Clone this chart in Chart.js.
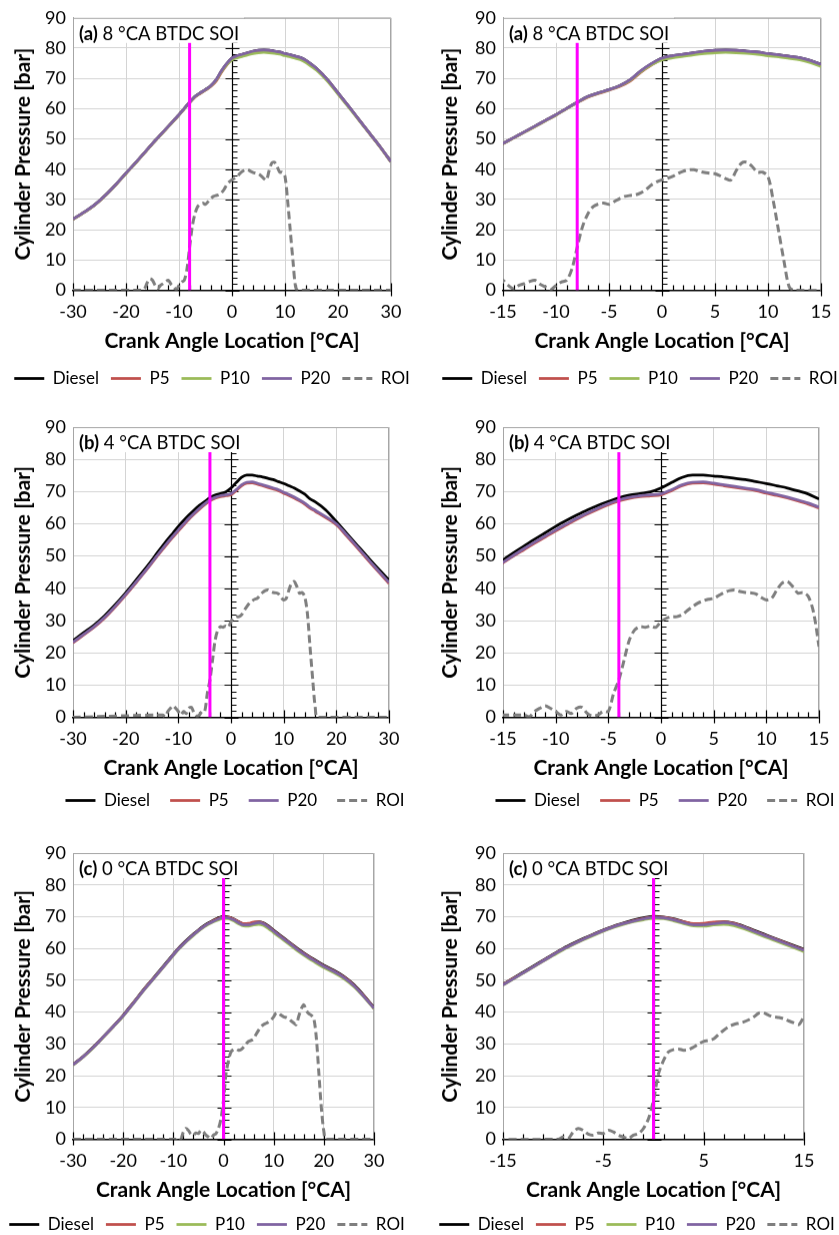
<!DOCTYPE html>
<html>
<head>
<meta charset="utf-8">
<script src="https://cdn.jsdelivr.net/npm/chart.js@4.4.0/dist/chart.umd.min.js"></script>
<style>
  html, body { margin: 0; padding: 0; background: #fff; overflow: hidden; }
  #fig { position: relative; width: 839px; height: 1235px; overflow: hidden; background: #fff; }
  #fig canvas { position: absolute; }
</style>
</head>
<body>
<div id="fig"></div>
<script>
// Angles vilebrequin des courbes de pression [°CA]
const CA_P = [-30, -28, -26, -24, -22, -20, -18, -16,
  -15, -14, -13, -12, -11, -10, -9, -8, -7, -6, -5, -4, -3, -2, -1,
  0, 1, 2, 3, 4, 5, 6, 7, 8, 9, 10, 11, 12, 13, 14, 15,
  16, 18, 20, 22, 24, 26, 28, 30];

// (a) 8 °CA BTDC SOI - pression cylindre [bar]
const A_DIESEL = [23.5, 25.7, 28.1, 31.2, 34.8, 38.7, 42.5, 46.5,
  48.5, 50.4, 52.3, 54.2, 56.1, 58.0, 60.1, 62.1, 64.0, 65.2, 66.3, 67.6, 69.5, 72.4, 74.8,
  76.7, 77.5, 78.0, 78.5, 79.0, 79.3, 79.4, 79.3, 79.0, 78.7, 78.2, 77.8, 77.3, 76.8, 75.9, 74.6,
  73.2, 69.6, 65.2, 60.8, 56.3, 51.8, 47.3, 42.5];
const A_P5 = [23.4, 25.6, 28.0, 31.1, 34.7, 38.6, 42.4, 46.4,
  48.4, 50.3, 52.2, 54.1, 56.0, 57.9, 60.0, 62.0, 63.8, 65.0, 66.1, 67.3, 69.1, 72.0, 74.4,
  76.4, 77.3, 77.8, 78.3, 78.8, 79.1, 79.2, 79.1, 78.8, 78.5, 78.0, 77.6, 77.1, 76.6, 75.7, 74.4,
  73.0, 69.4, 65.0, 60.7, 56.2, 51.7, 47.2, 42.4];
const A_P10 = [23.4, 25.6, 28.0, 31.1, 34.7, 38.6, 42.4, 46.4,
  48.4, 50.3, 52.2, 54.1, 56.0, 57.9, 60.0, 62.0, 63.9, 65.1, 66.2, 67.5, 69.4, 72.2, 74.5,
  76.1, 76.8, 77.3, 77.8, 78.2, 78.5, 78.6, 78.5, 78.3, 78.0, 77.5, 77.1, 76.6, 76.1, 75.2, 73.9,
  72.6, 69.1, 64.8, 60.5, 56.1, 51.7, 47.2, 42.4];
const A_P20 = [23.5, 25.7, 28.1, 31.2, 34.8, 38.7, 42.5, 46.5,
  48.5, 50.4, 52.3, 54.2, 56.1, 58.0, 60.1, 62.1, 64.0, 65.2, 66.3, 67.6, 69.6, 72.5, 74.9,
  76.7, 77.5, 78.0, 78.5, 79.0, 79.3, 79.4, 79.3, 79.0, 78.7, 78.2, 77.8, 77.3, 76.8, 75.9, 74.6,
  73.2, 69.6, 65.2, 60.8, 56.3, 51.8, 47.3, 42.5];

// (b) 4 °CA BTDC SOI
const B_DIESEL = [23.8, 26.2, 28.6, 31.5, 34.9, 38.6, 42.6, 46.7,
  48.8, 51.0, 53.1, 55.2, 57.2, 59.2, 61.0, 62.7, 64.3, 65.7, 66.9, 68.1, 68.9, 69.4, 69.9,
  71.1, 72.8, 74.4, 75.1, 75.1, 74.8, 74.5, 74.1, 73.7, 73.1, 72.5, 71.8, 71.1, 70.2, 69.2, 67.7,
  66.8, 64.3, 60.7, 57.0, 53.3, 49.6, 46.0, 42.6];
const B_P5 = [23.1, 25.5, 27.9, 30.8, 34.2, 37.9, 41.8, 45.8,
  47.9, 50.0, 52.0, 54.0, 55.9, 57.8, 59.6, 61.4, 63.0, 64.5, 65.9, 67.1, 67.9, 68.4, 68.7,
  69.0, 70.3, 71.8, 72.6, 72.7, 72.3, 71.8, 71.3, 70.8, 70.3, 69.5, 68.8, 68.0, 67.1, 66.1, 64.9,
  63.9, 61.9, 59.7, 56.2, 52.5, 48.8, 45.1, 41.5];
const B_P20 = [23.3, 25.7, 28.1, 31.0, 34.4, 38.1, 42.0, 46.0,
  48.1, 50.2, 52.3, 54.3, 56.2, 58.1, 59.9, 61.7, 63.3, 64.8, 66.2, 67.4, 68.2, 68.7, 69.0,
  69.3, 70.6, 72.1, 72.9, 73.0, 72.6, 72.1, 71.6, 71.1, 70.6, 69.8, 69.1, 68.3, 67.4, 66.4, 65.2,
  64.2, 62.2, 60.0, 56.5, 52.8, 49.1, 45.4, 41.8];

// (c) 0 °CA BTDC SOI
const C_DIESEL = [23.5, 26.0, 28.9, 32.2, 35.5, 39.0, 42.9, 46.9,
  48.8, 50.6, 52.5, 54.4, 56.3, 58.2, 60.0, 61.6, 63.1, 64.5, 65.8, 67.0, 68.0, 68.9, 69.6,
  70.1, 69.9, 69.3, 68.4, 67.7, 67.7, 68.1, 68.4, 68.0, 67.0, 65.7, 64.5, 63.3, 62.1, 60.9, 59.7,
  58.6, 56.6, 54.7, 53.1, 51.2, 48.6, 45.2, 41.4];
const C_P5 = [23.4, 25.9, 28.8, 32.1, 35.4, 38.9, 42.8, 46.8,
  48.7, 50.5, 52.3, 54.2, 56.1, 58.0, 59.8, 61.4, 62.9, 64.3, 65.6, 66.8, 67.8, 68.7, 69.4,
  69.9, 69.8, 69.2, 68.4, 67.8, 67.9, 68.3, 68.4, 67.9, 66.8, 65.5, 64.3, 63.1, 61.9, 60.7, 59.5,
  58.4, 56.4, 54.5, 52.9, 51.0, 48.4, 45.0, 41.2];
const C_P10 = [23.3, 25.8, 28.7, 32.0, 35.3, 38.7, 42.6, 46.6,
  48.5, 50.3, 52.2, 54.1, 56.0, 57.8, 59.6, 61.2, 62.7, 64.1, 65.4, 66.6, 67.6, 68.4, 69.0,
  69.5, 69.4, 68.7, 67.8, 67.1, 67.0, 67.4, 67.6, 67.2, 66.2, 65.0, 63.8, 62.6, 61.4, 60.2, 59.0,
  57.9, 55.9, 54.0, 52.4, 50.5, 48.0, 44.7, 41.0];
const C_P20 = [23.4, 25.9, 28.8, 32.1, 35.4, 38.8, 42.7, 46.7,
  48.6, 50.4, 52.3, 54.2, 56.1, 58.0, 59.8, 61.4, 62.9, 64.3, 65.6, 66.8, 67.8, 68.6, 69.3,
  69.8, 69.6, 69.0, 68.1, 67.4, 67.4, 67.8, 68.1, 67.7, 66.7, 65.4, 64.2, 63.0, 61.8, 60.6, 59.4,
  58.3, 56.3, 54.4, 52.8, 50.9, 48.3, 44.9, 41.2];

// Taux d'injection (ROI)
const CA_ROI_A = [-30, -17, -16.5, -16, -15.5, -15, -14.5, -14, -13.5, -13, -12.5, -12, -11.5, -11, -10.5,
  -10, -9.5, -9, -8.5, -8, -7.5, -7, -6.5, -6, -5.5, -5, -4.5, -4, -3.5, -3, -2.5, -2, -1.5, -1, -0.5,
  0, 0.5, 1, 1.5, 2, 2.5, 3, 3.5, 4, 4.5, 5, 5.5, 6, 6.5, 7, 7.5, 8, 8.5, 9, 9.5, 10, 10.5, 11, 11.5,
  12, 12.5, 30];
const ROI_A = [0, 0, 0.5, 2.5, 3.8, 3.3, 1.6, 0.5, 1.6, 2.2, 2.9, 3.3, 2.0, 1.1, 0.2,
  1.6, 2.7, 3.3, 7.0, 14.2, 21.0, 25.2, 27.6, 28.5, 28.8, 28.4, 29.3, 30.3, 31.0, 31.3, 31.5, 32.2, 33.3, 34.8, 35.8,
  36.5, 37.0, 37.6, 38.6, 39.3, 39.8, 39.8, 39.3, 38.9, 38.7, 38.5, 37.8, 36.9, 36.4, 39.5, 42.0, 42.3, 40.9, 39.0, 39.0,
  37.6, 29.5, 19.6, 9.8, 1.1, 0, 0];

const CA_ROI_B = [-30, -13, -12.5, -12, -11.5, -11, -10.5, -10, -9.5, -9, -8.5, -8, -7.5, -7, -6.5, -6, -5.5,
  -5, -4.5, -4, -3.5, -3, -2.5, -2, -1.5, -1, -0.5, 0, 0.5, 1, 1.5, 2, 2.5, 3, 3.5, 4, 4.5, 5, 5.5, 6,
  6.5, 7, 7.5, 8, 8.5, 9, 9.5, 10, 10.5, 11, 11.5, 12, 12.5, 13, 13.5, 14, 14.5, 15, 15.5, 16, 16.5, 30];
const ROI_B = [0, 0.7, 0.2, 1.8, 2.8, 3.6, 2.8, 1.8, 0.7, 1.8, 1.2, 2.8, 3.1, 1.2, 0.4, 0.7, 1.8,
  1.8, 7.4, 11.6, 17.8, 24.0, 27.1, 28.1, 27.9, 28.3, 27.9, 29.7, 30.7, 31.2, 31.2, 31.8, 33.1, 34.3, 35.4, 36.1, 36.6, 36.9, 37.8, 38.7,
  39.3, 39.5, 39.0, 38.7, 38.6, 38.3, 37.2, 36.4, 36.9, 39.5, 41.6, 42.1, 40.6, 38.5, 38.7, 37.4, 32.3, 21.9, 12.0, 3.0, 0, 0];

const CA_ROI_C = [-30, -9.5, -9, -8.5, -8, -7.5, -7, -6.5, -6, -5.5, -5, -4.5, -4, -3.5, -3, -2.5, -2, -1.5, -1, -0.5,
  0, 0.5, 1, 1.5, 2, 2.5, 3, 3.5, 4, 4.5, 5, 5.5, 6, 6.5, 7, 7.5, 8, 8.5, 9, 9.5,
  10, 10.5, 11, 11.5, 12, 12.5, 13, 13.5, 14, 14.5, 15, 15.5, 16, 16.5, 17, 17.5, 18, 18.5, 19, 19.5,
  20, 20.5, 30];
const ROI_C = [0, 0, 0.7, 0.2, 2.3, 3.4, 2.8, 1.6, 1.3, 2.0, 1.8, 2.8, 2.3, 1.3, 0.7, 0.2, 1.3, 1.8, 3.4, 6.5,
  12.3, 20.6, 24.8, 27.5, 28.2, 28.4, 28.0, 28.2, 29.0, 30.0, 30.8, 31.1, 31.6, 33.0, 34.3, 35.4, 36.1, 36.5, 36.9, 37.6,
  38.5, 39.7, 39.7, 39.0, 38.5, 38.3, 37.9, 37.2, 36.6, 36.1, 38.7, 41.0, 42.3, 40.5, 39.5, 39.0, 38.0, 32.0, 21.0, 10.0,
  2.5, 0, 0];

// Début d'injection (ligne magenta) [°CA]
const SOI_A = -8, SOI_B = -4, SOI_C = 0;

// Graduations
const Y_TICKS = [0, 10, 20, 30, 40, 50, 60, 70, 80, 90];
const X_TICKS_30 = [-30, -20, -10, 0, 10, 20, 30];
const X_TICKS_15 = [-15, -10, -5, 0, 5, 10, 15];
const X_TICKS_15B = [-15, -5, 5, 15];

const FONT = "Lato, 'Open Sans', sans-serif";
const GRID = '#d4d4d4';
const FRAME = '#a6a6a6';
const COLORS = { Diesel: '#000000', P5: '#c0504d', P10: '#9bbb59', P20: '#8064a2', ROI: '#7f7f7f', SOI: '#ff00ff' };
const ORDER = { Diesel: 4, P5: 3, P10: 2, P20: 1, ROI: 5 };

// Mise en page des lignes et panneaux
const ROWS = [
  { top: 0, padTop: 15, plotBottom: 290, legendOff: 88, lpad: 12 },
  { top: 400, padTop: 27, plotBottom: 317, legendOff: 83, lpad: 20 },
  { top: 830, padTop: 23, plotBottom: 309, legendOff: 85, lpad: 12 }
];
const COLS = [{ cx: -30, plotLeft: 73, titleX: 23 }, { cx: 400, plotLeft: 503, titleX: 450 }];
const LEG_FS = 17, AXIS_FS = 21, PANEL_FS = 18.5, TICK_FS = 18;

function pressure(label, ys) {
  return {
    label, data: CA_P.map((x, i) => ({ x, y: ys[i] })),
    borderColor: COLORS[label], backgroundColor: COLORS[label],
    borderWidth: 2.75, pointRadius: 0, pointBorderWidth: 2.75,
    cubicInterpolationMode: 'monotone', order: ORDER[label]
  };
}
function roi(xs, ys) {
  return {
    label: 'ROI', data: xs.map((x, i) => ({ x, y: ys[i] })),
    borderColor: COLORS.ROI, backgroundColor: COLORS.ROI,
    borderWidth: 3, borderDash: [8, 4], pointRadius: 0, pointBorderWidth: 3,
    tension: 0.3, order: ORDER.ROI
  };
}
function soiLine(x) {
  return {
    label: 'SOI', soi: true, data: [{ x, y: 0 }, { x, y: 90 }],
    borderColor: COLORS.SOI, borderWidth: 3, pointRadius: 0, order: 0
  };
}

const SETS = {
  a: () => [pressure('Diesel', A_DIESEL), pressure('P5', A_P5), pressure('P10', A_P10), pressure('P20', A_P20), roi(CA_ROI_A, ROI_A), soiLine(SOI_A)],
  b: () => [pressure('Diesel', B_DIESEL), pressure('P5', B_P5), pressure('P20', B_P20), roi(CA_ROI_B, ROI_B), soiLine(SOI_B)],
  c: () => [pressure('Diesel', C_DIESEL), pressure('P5', C_P5), pressure('P10', C_P10), pressure('P20', C_P20), roi(CA_ROI_C, ROI_C), soiLine(SOI_C)]
};
const TITLES = { a: ['(a)', ' 8 °CA BTDC SOI'], b: ['(b)', ' 4 °CA BTDC SOI'], c: ['(c)', ' 0 °CA BTDC SOI'] };

const PANELS = [
  { set: 'a', row: 0, col: 0, plotRight: 391, legCx: 212, min: -30, max: 30, ticks: X_TICKS_30, minor: 2 },
  { set: 'a', row: 0, col: 1, plotRight: 821, legCx: 640, min: -15, max: 15, ticks: X_TICKS_15, minor: 1 },
  { set: 'b', row: 1, col: 0, plotRight: 389, legCx: 235, min: -30, max: 30, ticks: X_TICKS_30, minor: 2 },
  { set: 'b', row: 1, col: 1, plotRight: 819, legCx: 665, min: -15, max: 15, ticks: X_TICKS_15, minor: 1 },
  { set: 'c', row: 2, col: 0, plotRight: 374, legCx: 207, min: -30, max: 30, ticks: X_TICKS_30, minor: 2 },
  { set: 'c', row: 2, col: 1, plotRight: 804, legCx: 637, min: -15, max: 15, ticks: X_TICKS_15B, minor: 2 }
];

// Axes façon Excel : axe vertical à 0 °CA avec graduations, cadre gris, encadré du titre
const excelAxes = {
  id: 'excelAxes',
  beforeDatasetsDraw(chart, args, opts) {
    const { ctx, chartArea: a, scales: { x, y } } = chart;
    ctx.save();
    ctx.strokeStyle = FRAME; ctx.lineWidth = 1;
    ctx.beginPath();
    ctx.moveTo(a.left, a.top + 0.5); ctx.lineTo(a.right - 0.5, a.top + 0.5); ctx.lineTo(a.right - 0.5, a.bottom);
    ctx.stroke();

    ctx.strokeStyle = '#000'; ctx.lineWidth = 1.2;
    ctx.beginPath();
    const x0 = Math.round(x.getPixelForValue(0)) + 0.5;
    ctx.moveTo(x0, a.top); ctx.lineTo(x0, a.bottom);
    for (let v = 0; v <= 90; v += 2) {
      const py = Math.round(y.getPixelForValue(v)) + 0.5;
      if (v % 10 === 0) { ctx.moveTo(x0 - 7, py); ctx.lineTo(x0 + 7, py); }
      else { ctx.moveTo(x0, py); ctx.lineTo(x0 + 5, py); }
    }
    const b = a.bottom;
    for (let v = x.min; v <= x.max + 1e-6; v += opts.minor) {
      const px = Math.round(x.getPixelForValue(v)) + 0.5;
      if (opts.ticks.some(t => Math.abs(t - v) < 1e-6)) { ctx.moveTo(px, b - 7); ctx.lineTo(px, b + 6); }
      else { ctx.moveTo(px, b - 5); ctx.lineTo(px, b); }
    }
    ctx.stroke();
    ctx.restore();
  },
  afterDatasetsDraw(chart, args, opts) {
    const { ctx, chartArea: a } = chart;
    ctx.save();
    ctx.font = `bold ${PANEL_FS}px ${FONT}`;
    const w1 = ctx.measureText(opts.title[0]).width;
    ctx.font = `${PANEL_FS}px ${FONT}`;
    const w2 = ctx.measureText(opts.title[1]).width;
    const tx = a.left + 6, ty = a.top + 16;
    ctx.fillStyle = '#fff';
    ctx.fillRect(a.left + 1, a.top - 1, 6 + w1 + w2 + 4, 26);
    ctx.fillStyle = '#000';
    ctx.textBaseline = 'middle';
    ctx.font = `bold ${PANEL_FS}px ${FONT}`;
    ctx.fillText(opts.title[0], tx, ty);
    ctx.font = `${PANEL_FS}px ${FONT}`;
    ctx.fillText(opts.title[1], tx + w1, ty);
    // le cadre supérieur reste visible au-dessus de l'encadré
    ctx.strokeStyle = FRAME; ctx.lineWidth = 1;
    ctx.beginPath();
    ctx.moveTo(a.left, a.top + 0.5); ctx.lineTo(a.left + 6 + w1 + w2 + 6, a.top + 0.5);
    ctx.stroke();
    ctx.restore();
  }
};

const fig = document.getElementById('fig');
const baseLabels = Chart.defaults.plugins.legend.labels.generateLabels;

PANELS.forEach(p => {
  const row = ROWS[p.row], col = COLS[p.col];
  const W = 2 * (p.legCx - col.cx);
  const yW = col.plotLeft - col.cx;
  const rW = col.cx + W - p.plotRight;
  const Hx = row.legendOff - row.lpad - LEG_FS / 2;
  const L = LEG_FS + row.lpad + 10;
  const H = row.plotBottom + Hx + L;
  const titlePadBottom = Hx - 51 - AXIS_FS * 1.2 / 2;

  const canvas = document.createElement('canvas');
  canvas.width = W; canvas.height = H;
  canvas.style.left = col.cx + 'px';
  canvas.style.top = row.top + 'px';
  canvas.style.width = W + 'px'; canvas.style.height = H + 'px';
  fig.appendChild(canvas);

  new Chart(canvas.getContext('2d'), {
    type: 'line',
    data: { datasets: SETS[p.set]() },
    plugins: [excelAxes],
    options: {
      responsive: false,
      animation: false,
      events: [],
      layout: { padding: { top: row.padTop, left: 0, right: 0, bottom: 0 } },
      scales: {
        x: {
          type: 'linear', min: p.min, max: p.max,
          afterBuildTicks: s => { s.ticks = p.ticks.map(v => ({ value: v })); },
          afterFit: s => { s.height = Hx; },
          grid: { color: GRID, drawTicks: false },
          border: { color: '#000', width: 1.5 },
          ticks: { padding: 11, color: '#000', font: { family: FONT, size: TICK_FS }, maxRotation: 0, autoSkip: false },
          title: {
            display: true, text: 'Crank Angle Location [°CA]', color: '#000',
            font: { family: FONT, size: AXIS_FS, weight: 'bold' },
            padding: { top: 0, bottom: titlePadBottom }
          }
        },
        y: {
          type: 'linear', min: 0, max: 90,
          afterBuildTicks: s => { s.ticks = Y_TICKS.map(v => ({ value: v })); },
          afterFit: s => { s.width = yW; },
          grid: { color: GRID, drawTicks: false },
          border: { color: FRAME, width: 1 },
          ticks: { padding: 7, color: '#000', font: { family: FONT, size: TICK_FS } },
          title: {
            display: true, text: 'Cylinder Pressure [bar]', color: '#000',
            font: { family: FONT, size: AXIS_FS, weight: 'bold' },
            padding: { top: col.titleX - col.cx - AXIS_FS * 1.2 / 2, bottom: 0 }
          }
        },
        yR: {
          type: 'linear', position: 'right', display: true,
          grid: { display: false }, border: { display: false }, ticks: { display: false },
          afterFit: s => { s.width = rW; }
        }
      },
      plugins: {
        excelAxes: { minor: p.minor, ticks: p.ticks, title: TITLES[p.set] },
        tooltip: { enabled: false },
        legend: {
          position: 'bottom',
          labels: {
            usePointStyle: true, pointStyle: 'line', pointStyleWidth: 30,
            padding: row.lpad, color: '#000', font: { family: FONT, size: LEG_FS },
            generateLabels: chart => baseLabels(chart).map(it => {
              const ds = chart.data.datasets[it.datasetIndex];
              it.lineDash = ds.borderDash || [];
              it.lineWidth = ds.borderWidth;
              it.strokeStyle = ds.borderColor;
              return it;
            }),
            filter: (item, data) => !data.datasets[item.datasetIndex].soi,
            sort: (a, b) => a.datasetIndex - b.datasetIndex
          }
        }
      }
    }
  });
});
</script>
</body>
</html>
